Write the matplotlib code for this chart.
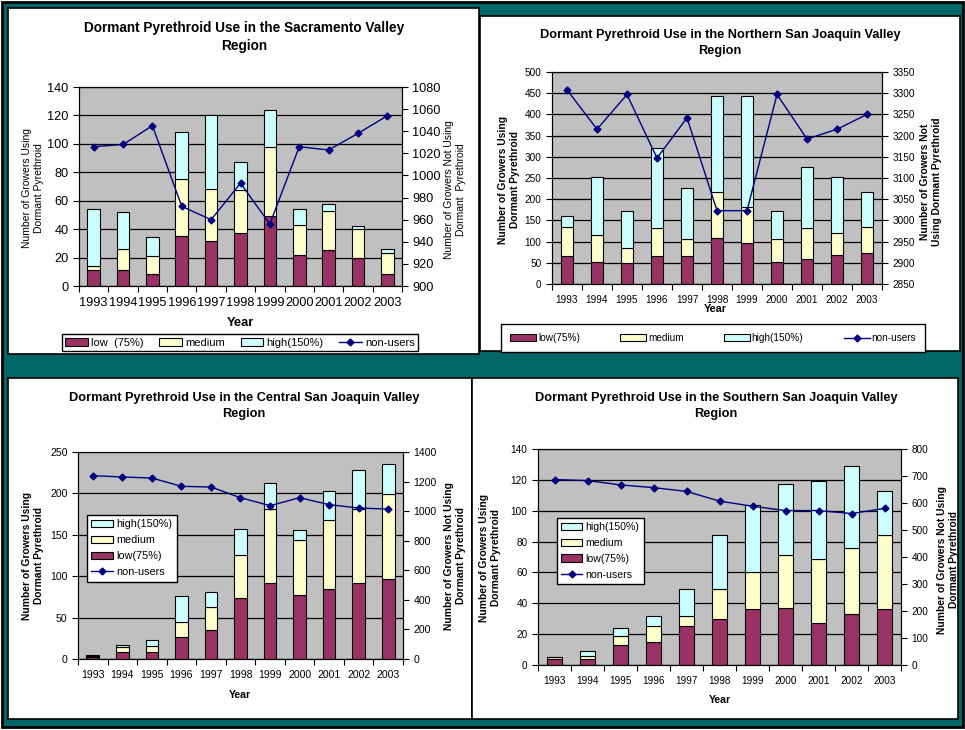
import numpy as np
import matplotlib.pyplot as plt
from matplotlib.patches import Rectangle

W, H = 965, 730

years = ['1993', '1994', '1995', '1996', '1997', '1998', '1999', '2000', '2001', '2002', '2003']

# Sacramento Valley
sac_low = [11, 11, 8.5, 35, 32, 37, 49, 22, 25, 20, 8.5]
sac_med = [3, 15, 12.5, 40, 36, 30.5, 49, 21, 28, 20, 14.5]
sac_high = [40, 26, 13.5, 33, 52, 20, 26, 11, 4.5, 2, 3]
sac_non = [1026, 1028, 1045, 972, 960, 993, 956, 1026, 1023, 1038, 1054]

# Northern San Joaquin Valley
nsj_low = [65, 52, 50, 65, 65, 109, 97, 52, 59, 68, 72]
nsj_med = [69, 64, 35, 68, 41, 108, 85, 54, 72, 53, 62]
nsj_high = [26, 137, 86, 187, 120, 226, 261, 65, 145, 132, 83]
nsj_non = [3308, 3215, 3297, 3147, 3242, 3023, 3023, 3297, 3192, 3215, 3250]

# Central San Joaquin Valley
csj_low = [2, 8, 9, 27, 35, 74, 92, 77, 85, 92, 97]
csj_med = [2, 6.5, 7, 18, 28, 52, 89, 67, 83, 89, 102]
csj_high = [1, 2.5, 7, 31, 18, 31, 32, 12, 35, 47, 36]
csj_non = [1240, 1231, 1224, 1168, 1163, 1091, 1037, 1091, 1044, 1021, 1014]

# Southern San Joaquin Valley
ssj_low = [4, 4, 13, 15, 25, 30, 36, 37, 27, 33, 36]
ssj_med = [1, 2, 6, 10, 7, 19, 24, 34, 42, 43, 48]
ssj_high = [0, 3, 5, 7, 17, 35, 44, 46, 50, 53, 29]
ssj_non = [687, 683, 667, 657, 643, 607, 588, 572, 572, 561, 580]

LOW = '#993366'
MED = '#FFFFCC'
HIGH = '#CCFFFF'
LINE = '#000080'
TEAL = '#006666'
GRAY = '#C0C0C0'

plt.rcParams['font.family'] = ['Liberation Sans', 'DejaVu Sans']

fig = plt.figure(figsize=(W / 100, H / 100), dpi=100, facecolor='white')


def fx(x):
    return x / W


def fy(y):
    return 1 - y / H


def box(x0, y0, x1, y1, fc, ec, lw, z):
    fig.patches.append(Rectangle((fx(x0), fy(y1)), fx(x1 - x0), (y1 - y0) / H,
                                 transform=fig.transFigure, facecolor=fc,
                                 edgecolor=ec, lw=lw, zorder=z))


# background and the four white panels
box(2, 2, 963, 727, TEAL, 'black', 2.0, -3)
box(8, 8, 479, 354, 'white', 'black', 1.2, -2)
box(480, 16, 960, 351, 'white', 'black', 1.2, -2)
box(8, 378, 472, 719, 'white', 'black', 1.2, -2)
box(472, 378, 958, 719, 'white', 'black', 1.2, -2)


def chart(area, low, med, high, non, lims, rlims, fs, low_name, bold_ylab):
    x0, y0, x1, y1 = area
    ax = fig.add_axes([fx(x0), fy(y1), fx(x1 - x0), (y1 - y0) / H])
    ax.set_facecolor(GRAY)
    ax.set_axisbelow(True)
    x = np.arange(len(years))
    low = np.array(low, float)
    med = np.array(med, float)
    high = np.array(high, float)
    b1 = ax.bar(x, low, 0.43, color=LOW, edgecolor='black', lw=0.8, label=low_name)
    b2 = ax.bar(x, med, 0.43, bottom=low, color=MED, edgecolor='black', lw=0.8, label='medium')
    b3 = ax.bar(x, high, 0.43, bottom=low + med, color=HIGH, edgecolor='black', lw=0.8,
                label='high(150%)')
    ax.set_xlim(-0.5, len(years) - 0.5)
    ax.set_ylim(lims[0], lims[1])
    ax.set_yticks(np.arange(lims[0], lims[1] + 1, lims[2]))
    ax.yaxis.grid(True, color='black', lw=0.9)
    ax.set_xticks(np.arange(-0.5, len(years)), [])
    ax.set_xticks(x, years, minor=True)
    ax.tick_params(axis='x', which='major', direction='out', length=4, width=0.8)
    ax.tick_params(axis='x', which='minor', length=0, labelsize=fs, pad=8)
    ax.tick_params(axis='y', direction='out', length=4, width=0.8, labelsize=fs)
    for s in ax.spines.values():
        s.set_linewidth(0.8)

    ax2 = ax.twinx()
    ln, = ax2.plot(x, non, color=LINE, lw=1.0, marker='D', ms=3.5, label='non-users')
    ax2.set_ylim(rlims[0], rlims[1])
    ax2.set_yticks(np.arange(rlims[0], rlims[1] + 1, rlims[2]))
    ax2.tick_params(axis='y', direction='out', length=4, width=0.8, labelsize=fs)
    for s in ax2.spines.values():
        s.set_linewidth(0.8)
    return ax, [b1, b2, b3, ln], ('bold' if bold_ylab else 'normal')


def labels(title, tx, ty, tfs, year_xy, yfs, left_xy, right_xy, lfs, weight):
    fig.text(fx(tx), fy(ty), title, ha='center', va='center', fontsize=tfs,
             fontweight='bold', linespacing=1.45)
    fig.text(fx(year_xy[0]), fy(year_xy[1]), 'Year', ha='center', va='center',
             fontsize=yfs, fontweight='bold')
    fig.text(fx(left_xy[0]), fy(left_xy[1]), 'Number of Growers Using\nDormant Pyrethroid',
             ha='center', va='center', rotation=90, fontsize=lfs, fontweight=weight,
             linespacing=1.25)
    fig.text(fx(right_xy[0]), fy(right_xy[1]), right_xy[2],
             ha='center', va='center', rotation=90, fontsize=lfs, fontweight=weight,
             linespacing=1.25)


# Sacramento Valley
ax, h, wt = chart((79, 87, 402, 286), sac_low, sac_med, sac_high, sac_non,
                  (0, 140, 20), (900, 1080, 20), 9.2, 'low  (75%)', False)
labels('Dormant Pyrethroid Use in the Sacramento Valley\nRegion', 244, 37, 9.8,
       (240, 323), 9.3, (33, 188, None), (455, 190, 'Number of Growers Not Using\nDormant  Pyrethroid'),
       7.5, wt)
fig.legend(h, [a.get_label() for a in h], ncol=4, mode='expand', loc='lower left',
           bbox_to_anchor=(fx(62), fy(351), fx(356), 18 / H), fontsize=8,
           fancybox=False, edgecolor='black', framealpha=1, borderpad=0.3,
           handlelength=2.0, handletextpad=0.3, borderaxespad=0)

# Northern San Joaquin Valley
ax, h, wt = chart((552, 72, 882, 284), nsj_low, nsj_med, nsj_high, nsj_non,
                  (0, 500, 50), (2850, 3350, 50), 7.2, 'low(75%)', True)
labels('Dormant Pyrethroid Use in the Northern San Joaquin Valley\nRegion', 720, 43, 9.2,
       (715, 309), 7.8, (509, 180, None), (931, 182, 'Number of Growers Not\nUsing Dormant Pyrethroid'),
       7.4, wt)
fig.legend(h, [a.get_label() for a in h], ncol=4, mode='expand', loc='lower left',
           bbox_to_anchor=(fx(501), fy(352), fx(424), 30 / H), fontsize=7.2,
           fancybox=False, edgecolor='black', framealpha=1, borderpad=0.9,
           handlelength=2.6, handletextpad=0.2, borderaxespad=0)

# Central San Joaquin Valley
ax, h, wt = chart((78, 452, 403, 659), csj_low, csj_med, csj_high, csj_non,
                  (0, 250, 50), (0, 1400, 200), 7.6, 'low(75%)', True)
labels('Dormant Pyrethroid Use in the Central San Joaquin Valley\nRegion', 244, 406, 9.2,
       (240, 695), 7.6, (33, 556, None), (455, 556, 'Number of Growers Not Using\nDormant Pyrethroid'),
       7.4, wt)
order = [2, 1, 0, 3]
fig.legend([h[i] for i in order], [h[i].get_label() for i in order], loc='upper left',
           bbox_to_anchor=(fx(87), fy(515)), fontsize=7.8, fancybox=False,
           edgecolor='black', framealpha=1, borderpad=0.4, labelspacing=0.55,
           handlelength=2.0, handletextpad=0.3, borderaxespad=0)

# Southern San Joaquin Valley
ax, h, wt = chart((538, 449, 901, 665), ssj_low, ssj_med, ssj_high, ssj_non,
                  (0, 140, 20), (0, 800, 100), 7.2, 'low(75%)', True)
labels('Dormant Pyrethroid Use in the Southern San Joaquin Valley\nRegion', 716, 406, 9.2,
       (720, 700), 7.6, (490, 558, None), (948, 560, 'Number of Growers Not Using\nDormant Pyrethroid'),
       7.4, wt)
fig.legend([h[i] for i in order], [h[i].get_label() for i in order], loc='upper left',
           bbox_to_anchor=(fx(557), fy(518)), fontsize=7.6, fancybox=False,
           edgecolor='black', framealpha=1, borderpad=0.4, labelspacing=0.55,
           handlelength=2.0, handletextpad=0.3, borderaxespad=0)

fig.savefig('out.png', dpi=100, facecolor=fig.get_facecolor())
